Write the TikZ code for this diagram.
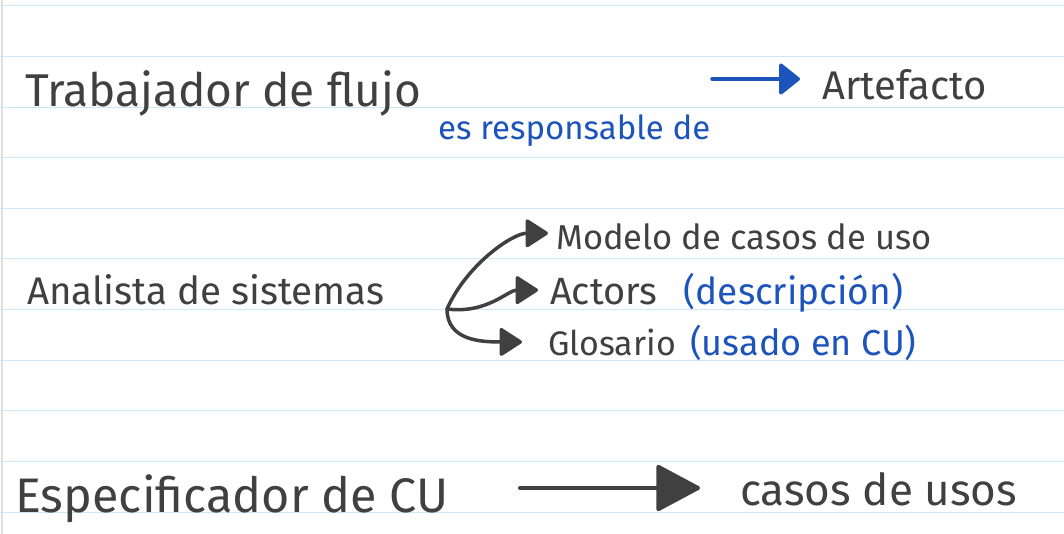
\documentclass[tikz,border=0pt]{standalone}
\usepackage{fontspec}
\setmainfont{Fira Sans}
\usetikzlibrary{arrows.meta,calc}
\definecolor{ink}{HTML}{404040}
\definecolor{blueink}{HTML}{1C54BC}
\definecolor{rule}{HTML}{CDE8F5}
\newcommand{\hand}[1]{\fontsize{#1pt}{#1pt}\selectfont}

\begin{document}
\begin{tikzpicture}[x=1pt,y=-1pt,
  txt/.style={text=ink,anchor=base west,inner sep=0pt},
  bluetxt/.style={text=blueink,anchor=base west,inner sep=0pt},
  inkarrow/.style={draw=ink,line width=3.5pt,line cap=round,-{Triangle[length=24pt,width=30pt,round]}},
  bluearrow/.style={draw=blueink,line width=3.5pt,line cap=round,-{Triangle[length=22pt,width=34pt,round]}},
  bigarrow/.style={draw=ink,line width=4pt,line cap=round,-{Triangle[length=46pt,width=48pt,round]}}]
%paper with ruled lines
\fill[white] (0,0) rectangle (1064,534);
\useasboundingbox (0,0) rectangle (1064,534);
\foreach \i in {0,...,10}
\draw[rule,line width=1pt] (0,6+50.6*\i) -- (1064,6+50.6*\i);
\draw[gray!25,line width=1.5pt] (2,0) -- (2,534);
%first row
\node[txt,font=\hand{46}] (trab) at (25,107) {Trabajador de flujo};
\node[bluetxt,font=\hand{33}] (resp) at (438,140) {es responsable de};
\node[txt,font=\hand{40}] (arte) at (822,100) {Artefacto};
\coordinate (respstart) at (712,79);
\draw[bluearrow] (respstart) -- ($(arte.west |- respstart)+(-22,0)$);
%second row
\node[txt,font=\hand{38.5}] (anal) at (27,304) {Analista de sistemas};
\coordinate (fork) at (447,309);
\node[txt,font=\hand{34.5}] (mod) at (556,250) {Modelo de casos de uso};
\node[txt,font=\hand{38}] (act) at (550,305) {Actors};
\node[bluetxt,font=\hand{37}] (actd) at ($(act.base east)+(26,0)$) {(descripción)};
\node[txt,font=\hand{34}] (glos) at (548,355) {Glosario};
\node[bluetxt,font=\hand{36}] (glosd) at ($(glos.base east)+(14,0)$) {(usado en CU)};
\draw[inkarrow] (fork) .. controls +(20,-45) and +(-35,0) .. ($(mod.west)+(-8,-4)$);
\draw[inkarrow] (fork) .. controls +(40,5) and +(-30,0) .. ($(act.west)+(-12,-2)$);
\draw[inkarrow] (fork) .. controls +(0,32) and +(-40,0) .. ($(glos.west)+(-26,0)$);
%third row
\node[txt,font=\hand{48.5}] (esp) at (15,512) {Especificador de CU};
\node[txt,font=\hand{44}] (casos) at (740,505) {casos de usos};
\coordinate (espstart) at (520,488);
\draw[bigarrow] (espstart) -- ($(casos.west |- espstart)+(-40,0)$);
\end{tikzpicture}
\end{document}
